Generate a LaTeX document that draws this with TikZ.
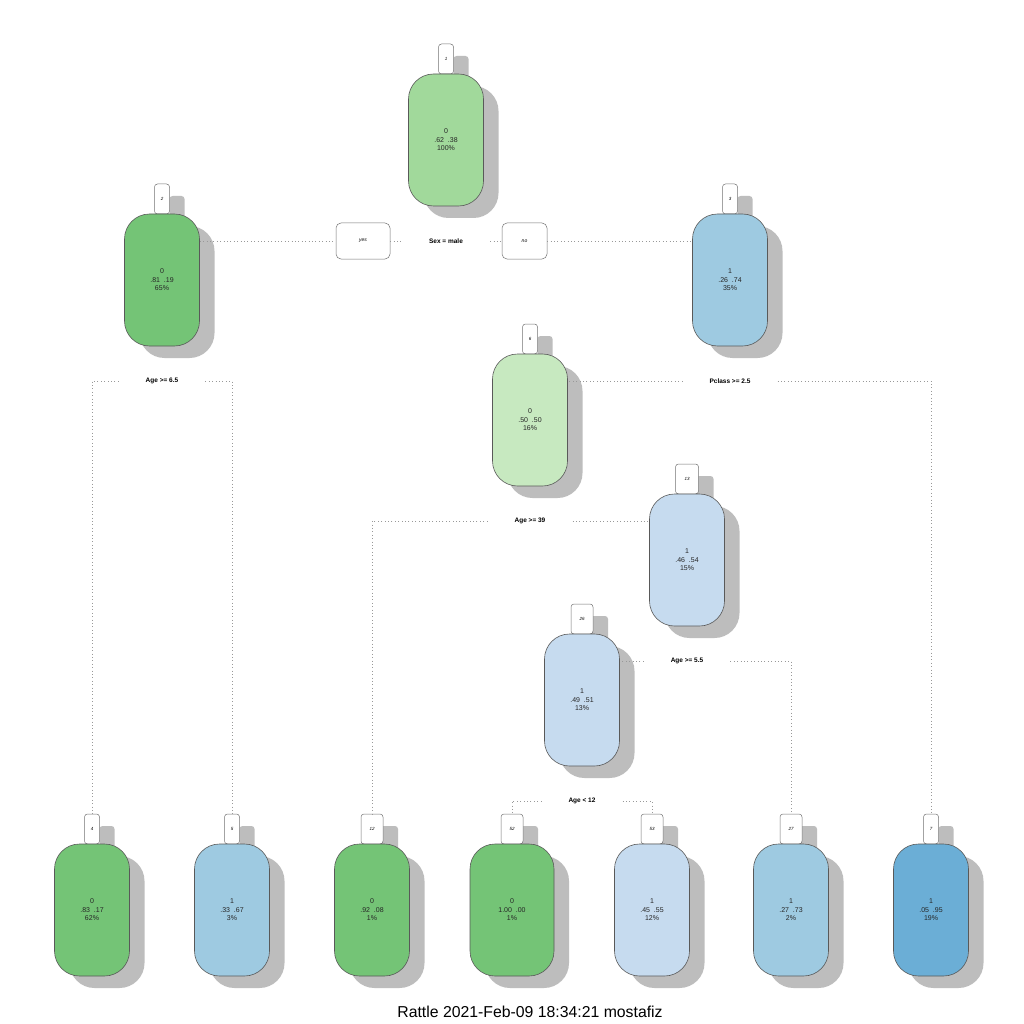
\documentclass[tikz,border=0pt]{standalone}
\usepackage{fontspec}
\setmainfont{Liberation Sans}
\usetikzlibrary{shadows,backgrounds}
\definecolor{gA}{HTML}{A1D99B}
\definecolor{gB}{HTML}{74C476}
\definecolor{gC}{HTML}{C7E9C0}
\definecolor{bA}{HTML}{9ECAE1}
\definecolor{bB}{HTML}{C6DBEF}
\definecolor{bC}{HTML}{6BAED6}
\begin{document}
\begin{tikzpicture}[x=1pt,y=-1pt,
  shad/.style={drop shadow={shadow xshift=15pt,shadow yshift=-12pt,fill=black!26,opacity=1}},
  box/.style={shad,draw=black!65,line width=0.6pt,rounded corners=25pt,minimum width=75pt,minimum height=132pt,inner sep=0pt,align=center,font=\fontsize{7}{8.5}\selectfont,text=black!85},
  numbox/.style={shad,draw=black!55,fill=white,line width=0.5pt,rounded corners=3pt,minimum width=15pt,minimum height=30pt,inner sep=0pt,font=\fontsize{4.5}{5}\selectfont\itshape},
  ynbox/.style={draw=black!55,fill=white,line width=0.5pt,rounded corners=5pt,minimum height=36pt,inner sep=0pt,font=\fontsize{5}{6}\selectfont\itshape},
  split/.style={inner xsep=27pt,inner ysep=2pt,font=\fontsize{6.5}{7}\selectfont\bfseries},
  conn/.style={draw=black!40,line width=0.6pt,dash pattern=on 0.8pt off 2.6pt}
]
\useasboundingbox (0,0) rectangle (1024,1024);

% node 1
\node[numbox] (l1) at (446,59) {1};
\node[box,fill=gA] (n1) at (446,140) {0\\.62\ \ .38\\100\%};
% node 2
\node[numbox] (l2) at (162,199) {2};
\node[box,fill=gB] (n2) at (162,280) {0\\.81\ \ .19\\65\%};
% node 3
\node[numbox] (l3) at (730,199) {3};
\node[box,fill=bA] (n3) at (730,280) {1\\.26\ \ .74\\35\%};
% node 6
\node[numbox] (l6) at (530,339) {6};
\node[box,fill=gC] (n6) at (530,420) {0\\.50\ \ .50\\16\%};
% node 13
\node[numbox,minimum width=23pt] (l13) at (687,479) {13};
\node[box,fill=bB] (n13) at (687,560) {1\\.46\ \ .54\\15\%};
% node 26
\node[numbox,minimum width=22pt] (l26) at (582,619) {26};
\node[box,fill=bB] (n26) at (582,700) {1\\.49\ \ .51\\13\%};
% leaves
\node[numbox] (l4) at (92,829) {4};
\node[box,fill=gB] (n4) at (92,910) {0\\.83\ \ .17\\62\%};
\node[numbox] (l5) at (232,829) {5};
\node[box,fill=bA] (n5) at (232,910) {1\\.33\ \ .67\\3\%};
\node[numbox,minimum width=22pt] (l12) at (372,829) {12};
\node[box,fill=gB] (n12) at (372,910) {0\\.92\ \ .08\\1\%};
\node[numbox,minimum width=22pt] (l52) at (512,829) {52};
\node[box,fill=gB,minimum width=84pt] (n52) at (512,910) {0\\1.00\ \ .00\\1\%};
\node[numbox,minimum width=22pt] (l53) at (652,829) {53};
\node[box,fill=bB] (n53) at (652,910) {1\\.45\ \ .55\\12\%};
\node[numbox,minimum width=22pt] (l27) at (791,829) {27};
\node[box,fill=bA] (n27) at (791,910) {1\\.27\ \ .73\\2\%};
\node[numbox] (l7) at (931,829) {7};
\node[box,fill=bC] (n7) at (931,910) {1\\.05\ \ .95\\19\%};

% yes / no
\node[ynbox,minimum width=54pt] (yes) at (363,241) {yes};
\node[ynbox,minimum width=45pt] (no) at (524.5,241) {no};

% split labels
\node[split] (s1) at (446,241) {Sex = male};
\node[split] (s2) at (162,381) {Age >= 6.5};
\node[split] (s3) at (730,381) {Pclass >= 2.5};
\node[split] (s6) at (530,521) {Age >= 39};
\node[split] (s13) at (687,661) {Age >= 5.5};
\node[split] (s26) at (582,801) {Age < 12};

\begin{scope}[on background layer]
\fill[white] (0,0) rectangle (1024,1024);
\end{scope}

\draw[conn] (n2.east |- s1) -- (yes.west);
\draw[conn] (yes.east) -- (s1.west);
\draw[conn] (s1.east) -- (no.west);
\draw[conn] (no.east) -- (n3.west |- s1);
\draw[conn] (s2.west) -| (l4.north);
\draw[conn] (s2.east) -| (l5.north);
\draw[conn] (s3.west) -- (n6.east |- s3);
\draw[conn] (s3.east) -| (l7.north);
\draw[conn] (s6.west) -| (l12.north);
\draw[conn] (s6.east) -- (n13.west |- s6);
\draw[conn] (s13.west) -- (n26.east |- s13);
\draw[conn] (s13.east) -| (l27.north);
\draw[conn] (s26.west) -| (l52.north);
\draw[conn] (s26.east) -| (l53.north);

\node[font=\fontsize{15.8}{18}\selectfont] (cap) at (530,1012) {Rattle 2021-Feb-09 18:34:21 mostafiz};
\end{tikzpicture}
\end{document}
